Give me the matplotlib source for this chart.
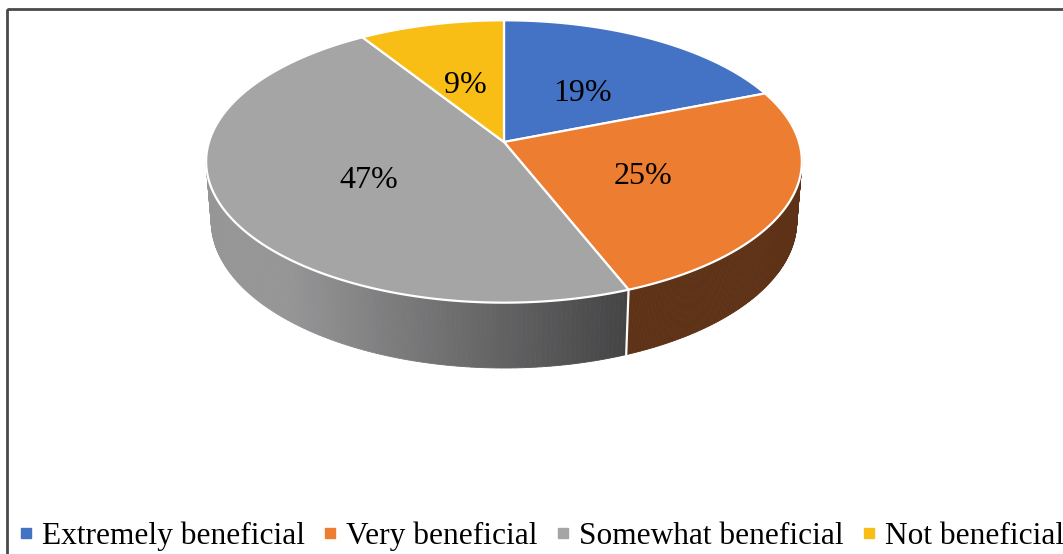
import numpy as np
import matplotlib.pyplot as plt
from matplotlib.patches import Polygon, Rectangle
from matplotlib.lines import Line2D

categories = ["Extremely beneficial", "Very beneficial", "Somewhat beneficial", "Not beneficial"]
shares = [19, 25, 47, 9]
colors = ["#4472C4", "#ED7D31", "#A5A5A5", "#F9BE16"]
side_colors = ["#2B4A80", "#5E3217", None, "#9E7A0E"]  # None -> grey gradient

W, H = 1063, 554
plt.rcParams['font.family'] = ['Liberation Serif', 'DejaVu Serif']

fig = plt.figure(figsize=(W / 100, H / 100), dpi=100)
ax = fig.add_axes([0, 0, 1, 1])
ax.set_xlim(0, W)
ax.set_ylim(H, 0)
ax.axis('off')

# perspective view of a disc tilted towards the viewer
cx, cy = 504, 142
F, D = 1888, 6.4
tilt = np.radians(28)
depth = 0.231


def project(r, theta, z):
    u = r * np.sin(theta)
    v = r * np.cos(theta)
    yc = v * np.sin(tilt) + z * np.cos(tilt)
    zc = D + v * np.cos(tilt) - z * np.sin(tilt)
    return cx + F * u / zc, cy - F * yc / zc


fracs = np.array(shares) / sum(shares)
bounds = np.concatenate([[0], np.cumsum(fracs)]) * 2 * np.pi

# outer wall, back pieces first
quads = []
for i in range(len(shares)):
    th = np.linspace(bounds[i], bounds[i + 1], 200)
    for a, b in zip(th[:-1], th[1:]):
        xa, ya = project(1, a, 0)
        xb, yb = project(1, b, 0)
        xa2, ya2 = project(1, a, -depth)
        xb2, yb2 = project(1, b, -depth)
        quads.append((np.cos((a + b) / 2), i, [(xa, ya), (xb, yb), (xb2, yb2), (xa2, ya2)]))
quads.sort(key=lambda q: -q[0])

gx0, gx1 = project(1, bounds[3] - 0.35, 0)[0], project(1, bounds[2], 0)[0]
for _, i, pts in quads:
    if side_colors[i] is None:
        mx = np.mean([p[0] for p in pts])
        t = np.clip((mx - gx0) / (gx1 - gx0), 0, 1)
        g = (150 - 82 * t) / 255
        c = (g, g, g + 0.005)
    else:
        c = side_colors[i]
    ax.add_patch(Polygon(pts, closed=True, facecolor=c, edgecolor=c, lw=0.6))

# white seams where slices meet on the front wall
for b in bounds[1:-1]:
    if np.cos(b) < 0:
        x0, y0 = project(1, b, 0)
        x1, y1 = project(1, b, -depth)
        ax.plot([x0, x1], [y0, y1], color='white', lw=1.6)

# top faces
for i in range(len(shares)):
    th = np.linspace(bounds[i], bounds[i + 1], 200)
    xs, ys = project(1, th, 0)
    pts = [(cx, cy)] + list(zip(xs, ys))
    ax.add_patch(Polygon(pts, closed=True, facecolor=colors[i], edgecolor='white', lw=1.6, joinstyle='round'))

# percentage labels
for i, s in enumerate(shares):
    mid = (bounds[i] + bounds[i + 1]) / 2
    lx, ly = project(0.5, mid, 0)
    ax.text(lx, ly + 6, f"{s}%", ha='center', va='center', fontsize=23, color='black')

# chart frame
ax.add_patch(Rectangle((7, 9), W + 20, H + 20, fill=False, edgecolor='#4a4a4a', lw=2))

handles = [Line2D([], [], marker='s', linestyle='none', markersize=7.5, color=c) for c in colors]
ax.legend(handles, categories, loc='center left', bbox_to_anchor=(21 / W, 1 - 536 / H),
          ncol=4, frameon=False, fontsize=22.6, borderpad=0, borderaxespad=0,
          handlelength=0.32, handletextpad=0.35, columnspacing=0.64)

fig.savefig("out.png", dpi=100)
